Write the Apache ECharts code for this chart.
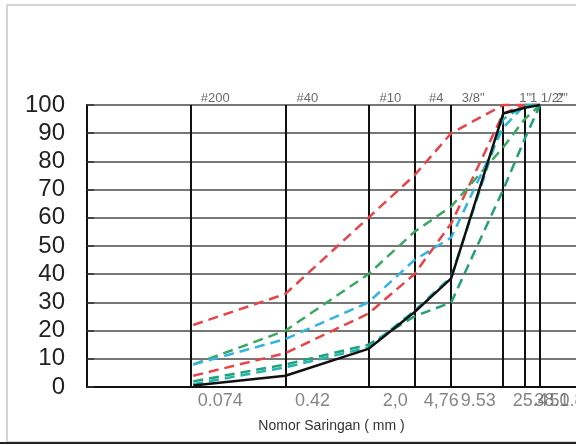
<!DOCTYPE html>
<html>
<head>
<meta charset="utf-8">
<script src="https://cdn.jsdelivr.net/npm/echarts@6/dist/echarts.min.js"></script>
<style>
  html, body { margin: 0; padding: 0; background: #fff; }
  #chart { width: 576px; height: 446px; }
</style>
</head>
<body>
<div id="chart"></div>
<script>
// ukuran saringan (mm) dan labelnya
const sieveSizes = [0.074, 0.42, 2.0, 4.76, 9.53, 25.4, 38.1, 50.8];
const sieveMm = ["0.074", "0.42", "2,0", "4,76", "9.53", "25.4", "38.1", "50.8"];
const sieveNo = ["#200", "#40", "#10", "#4", "3/8\"", "1\"", "1 1/2\"", "2\""];
const yTicks = [0, 10, 20, 30, 40, 50, 60, 70, 80, 90, 100];

// % lolos
const redUpper = [22, 33, 60, 75, 90, 100, 100, 100];
const redLower = [4, 12, 26, 40, 58, 97, 100, 100];
const greenUpper = [8, 20, 40, 55, 64, 85, 95, 100];
const greenLower = [2, 8, 15, 25, 30, 70, 88, 100];
const cyanLine = [8, 17, 30, 45, 53, 92, 100, 100];
const tealLine = [1, 7, 14, 27, 39, 95, 100, 100];
const hasil = [0.5, 4, 13.5, 26.5, 38.5, 97, 99, 100];

const chart = echarts.init(document.getElementById("chart"));
const font = "Liberation Sans, Arial, sans-serif";

const pair = (arr) => sieveSizes.map((s, i) => [s, arr[i]]);

const dashed = (arr, color) => ({
  type: "line",
  data: pair(arr),
  symbol: "none",
  clip: false,
  lineStyle: { color: color, width: 2.5, type: [10, 6] },
  z: 3,
});

chart.setOption({
  animation: false,
  grid: { left: 87, top: 105, width: 494, height: 282 },
  graphic: [
    {
      type: "rect",
      shape: { x: 7, y: 5, width: 600, height: 437 },
      style: { fill: "none", stroke: "#c8c8c8", lineWidth: 1.5 },
      silent: true,
    },
    {
      type: "line",
      shape: { x1: 0, y1: 443, x2: 576, y2: 443 },
      style: { stroke: "#222", lineWidth: 2 },
      silent: true,
    },
  ],
  xAxis: {
    type: "log",
    logBase: 10,
    min: 0.01,
    max: 100,
    name: "Nomor Saringan ( mm )",
    nameLocation: "middle",
    nameGap: 32,
    nameTextStyle: { fontFamily: font, fontSize: 14, color: "#333" },
    axisLine: { lineStyle: { color: "#111", width: 2 } },
    axisTick: { show: false },
    axisLabel: { show: false },
    splitLine: { show: false },
  },
  yAxis: {
    type: "value",
    min: yTicks[0],
    max: yTicks[yTicks.length - 1],
    interval: 10,
    axisLine: { show: true, lineStyle: { color: "#111", width: 2 } },
    axisTick: { show: true, inside: true, length: 7, lineStyle: { color: "#333", width: 1.5 } },
    axisLabel: { fontFamily: font, fontSize: 24, color: "#222", margin: 22 },
    splitLine: { lineStyle: { color: "#4a4a4a", width: 1.5 } },
  },
  series: [
    {
      // garis vertikal tiap saringan + label nomor saringan di atas
      type: "scatter",
      data: sieveSizes.map((s, i) => ({ value: [s, 100], name: sieveNo[i] })),
      symbolSize: 0,
      silent: true,
      clip: false,
      label: {
        show: true,
        position: "top",
        offset: [22, 5],
        formatter: (p) => p.name,
        fontFamily: font,
        fontSize: 13,
        color: "#444",
      },
      markLine: {
        silent: true,
        symbol: ["none", "none"],
        label: { show: false },
        lineStyle: { color: "#111", width: 2, type: "solid" },
        data: sieveSizes.map((s) => ({ xAxis: s })),
        z: 2,
      },
    },
    {
      // label ukuran (mm) di bawah
      type: "scatter",
      data: sieveSizes.map((s, i) => ({ value: [s, 0], name: sieveMm[i] })),
      symbolSize: 0,
      silent: true,
      clip: false,
      label: {
        show: true,
        position: "bottom",
        offset: [27, 0],
        formatter: (p) => p.name,
        fontFamily: font,
        fontSize: 18,
        color: "#666",
      },
    },
    dashed(redUpper, "#e8444a"),
    dashed(redLower, "#e8444a"),
    dashed(greenUpper, "#3aa860"),
    dashed(greenLower, "#22a078"),
    dashed(cyanLine, "#35b4e0"),
    dashed(tealLine, "#1fb5b0"),
    {
      type: "line",
      data: pair(hasil),
      symbol: "none",
      clip: false,
      lineStyle: { color: "#111", width: 2.5 },
      z: 4,
    },
  ],
});
</script>
</body>
</html>
